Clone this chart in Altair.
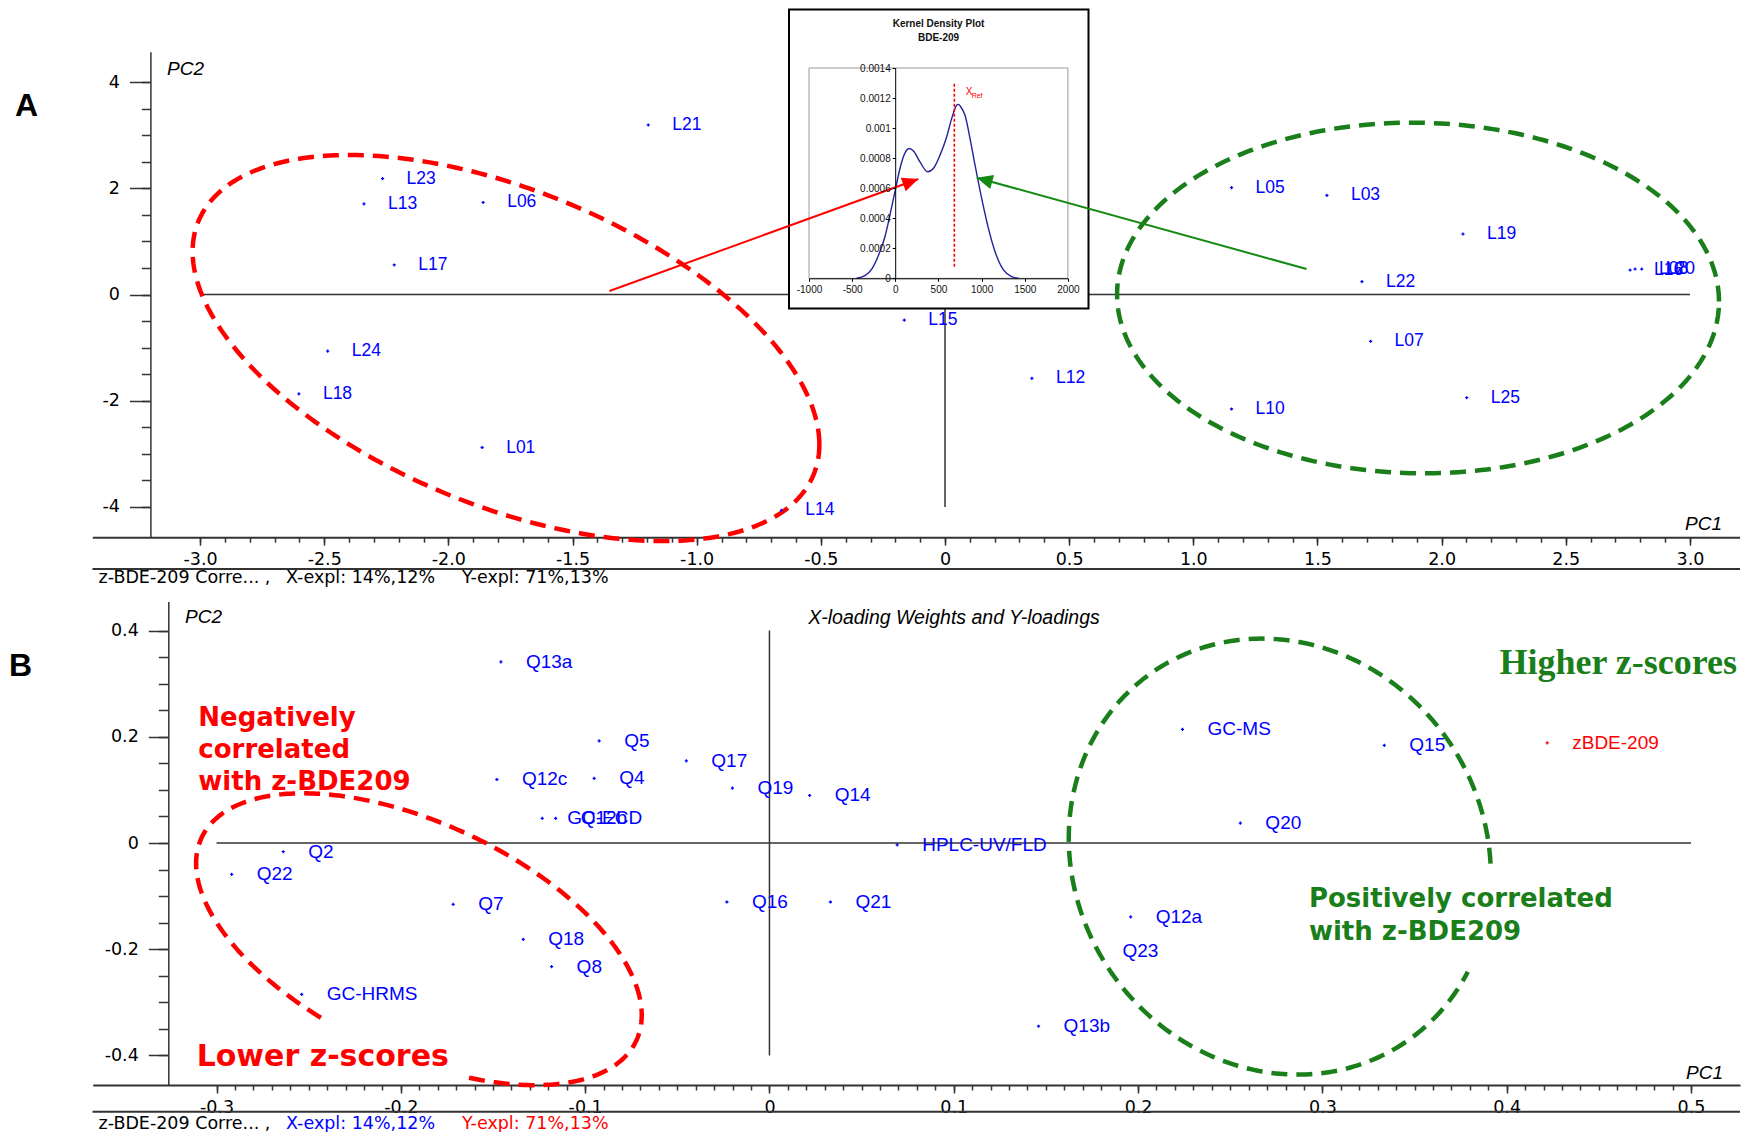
import numpy as np
import pandas as pd
import altair as alt

# ------------------------------------------------------------------ data
# Panel A : scores (PC1, PC2)
a_labels = ["L21", "L23", "L13", "L06", "L17", "L24", "L18", "L01", "L14", "L15", "L12",
            "L05", "L03", "L19", "L22", "L07", "L25", "L10", "L16", "L08", "L20"]
a_pc1 = [-1.195, -2.265, -2.340, -1.860, -2.218, -2.486, -2.602, -1.864, -0.659, -0.164, 0.350,
         1.154, 1.538, 2.086, 1.679, 1.714, 2.101, 1.154, 2.759, 2.779, 2.806]
a_pc2 = [3.192, 2.183, 1.706, 1.733, 0.556, -1.066, -1.872, -2.881, -4.066, -0.482, -1.578,
         2.011, 1.868, 1.139, 0.241, -0.881, -1.944, -2.156, 0.461, 0.480, 0.480]

# Panel B : X-loading weights (x) and Y-loadings (y)
b_labels = ["Q13a", "Q5", "Q17", "Q12c", "Q4", "Q19", "GC-ECD", "Q12b", "Q2", "Q22", "Q7", "Q18",
            "Q8", "GC-HRMS", "Q16", "Q14", "HPLC-UV/FLD", "Q21", "Q13b", "Q23", "Q12a", "GC-MS",
            "Q20", "Q15", "zBDE-209"]
b_pc1 = [-0.1457, -0.0924, -0.0451, -0.1479, -0.0951, -0.0201, -0.1233, -0.1160, -0.2638, -0.2918,
         -0.1716, -0.1336, -0.1182, -0.2538, -0.0231, 0.0218, 0.0693, 0.0331, 0.1460, 0.1780,
         0.1960, 0.2241, 0.2555, 0.3336, 0.4220]
b_pc2 = [0.3411, 0.1923, 0.1546, 0.1196, 0.1217, 0.1034, 0.0465, 0.0465, -0.0164, -0.0590,
         -0.1155, -0.1814, -0.2329, -0.2850, -0.1111, 0.0895, -0.0034, -0.1111, -0.3450, -0.2038,
         -0.1390, 0.2141, 0.0375, 0.1840, 0.1885]
b_kind = ["x"] * 24 + ["y"]

# Inset : kernel density of BDE-209
kde_x = [-448, -352, -267, -186, -120, -62, 0, 54, 104, 159, 213, 286, 375, 441, 518, 595,
         653, 711, 731, 758, 808, 866, 924, 1001, 1079, 1156, 1253, 1349, 1427]
kde_y = [0, 0.0000177, 0.0000665, 0.000166, 0.000277, 0.000421, 0.000587, 0.000731, 0.000824,
         0.000864, 0.000846, 0.000775, 0.000709, 0.000731, 0.000820, 0.000941, 0.001063,
         0.001152, 0.001158, 0.001142, 0.001085, 0.000930, 0.000753, 0.000532, 0.000332,
         0.000177, 0.0000554, 0.0000111, 0]
x_ref = [684]
x_ref_span = [0.0000775, 0.0013]

# axis ticks
a_x_major = [-3.0, -2.5, -2.0, -1.5, -1.0, -0.5, 0.0, 0.5, 1.0, 1.5, 2.0, 2.5, 3.0]
a_y_major = [-4, -2, 0, 2, 4]
a_x_minor = [round(v, 1) for v in np.arange(-3.0, 3.05, 0.1)]
a_y_minor = [round(v, 1) for v in np.arange(-4.0, 4.05, 0.5)]
b_x_major = [-0.3, -0.2, -0.1, 0.0, 0.1, 0.2, 0.3, 0.4, 0.5]
b_y_major = [-0.4, -0.2, 0.0, 0.2, 0.4]
b_x_minor = [round(v, 2) for v in np.arange(-0.3, 0.505, 0.01)]
b_y_minor = [round(v, 2) for v in np.arange(-0.4, 0.405, 0.05)]
k_x_ticks = [-1000, -500, 0, 500, 1000, 1500, 2000]
k_y_ticks = [0, 0.0002, 0.0004, 0.0006, 0.0008, 0.001, 0.0012, 0.0014]

# zero lines extents
a_zero_x = [-3.0, 3.0]
a_zero_y = [-4.0, 4.0]
b_zero_x = [-0.3, 0.5]
b_zero_y = [-0.4, 0.4]

# ellipses (annotation): cx, cy, half-width, half-height, tilt, t-start, t-end (deg)
ell_a_red = [-1.768, -1.008, 1.262, 3.635, -0.50, 0, 360]
ell_a_green = [1.905, -0.066, 1.212, 3.301, -0.02, 0, 360]
ell_b_red = [-0.1902, -0.1812, 0.1209, 0.2748, -0.52, 283, 604]
ell_b_green = [0.2769, -0.0256, 0.1145, 0.4105, -0.085, 3, 333]

# arrows (panel A data units): x1, y1, x2(tip), y2(tip)
arrow_red = [-1.3512, 0.0659, -0.1075, 2.175]
arrow_green = [1.4559, 0.480, 0.1277, 2.1996]

# footer texts
foot_parts = ["z-BDE-209 Corre... ,", "X-expl: 14%,12%", "Y-expl: 71%,13%"]

# ------------------------------------------------------------------ layout
CW, CH = 1739, 1124
BLUE, RED, GREEN, AXC = "#0000ff", "#ff0000", "#1a7f1a", "#333333"
ONE = pd.DataFrame({"k": [0]})

SC = {
    "A": ([-3.434, 3.2], [84.3, 1731.6], [-4.57, 4.57], [529.2, 43.8]),
    "B": ([-0.3672, 0.5266], [84.7, 1732.0], [-0.4557, 0.4546], [1077.0, 593.6]),
    "K": ([-1000, 2000], [801.0, 1059.9], [0, 0.0014], [270.3, 60.0]),
}
A_YAX, B_YAX, K_YAX = 142.4, 160.3, 887.2


def scl(d, r):
    return alt.Scale(domain=d, range=r, nice=False, zero=False)


def X(f, p, axis=None):
    return alt.X(f, type="quantitative", scale=scl(SC[p][0], SC[p][1]), axis=axis, title=None)


def Y(f, p, axis=None):
    return alt.Y(f, type="quantitative", scale=scl(SC[p][2], SC[p][3]), axis=axis, title=None)


def ax(**kw):
    base = dict(grid=False, title=None, domainColor=AXC, tickColor=AXC, labelColor="#000000",
                labelFont="DejaVu Sans", labelFontSize=17.5, labelFlush=False, labelOverlap=False,
                domainWidth=1.5, tickWidth=1.5)
    base.update(kw)
    return alt.Axis(**base)


LBL1 = "datum.value == 0 ? '0' : (datum.value < 0 ? '-' : '') + format(abs(datum.value), '.1f')"
LBLD = "(datum.value < 0 ? '-' : '') + format(abs(datum.value), 'd')"


def fixed_text(txt, x, y, **kw):
    return alt.Chart(ONE).mark_text(text=txt, **kw).encode(x=alt.value(x), y=alt.value(y))


def fixed_hline(x1, x2, y, color=AXC, w=2):
    return alt.Chart(ONE).mark_rule(color=color, strokeWidth=w).encode(
        x=alt.value(x1), x2=alt.value(x2), y=alt.value(y))


def footer(y, colors):
    xs = [90.5, 278.0, 454.0]
    return [fixed_text(t, x, y, font="DejaVu Sans", fontSize=17.5, align="left",
                       baseline="alphabetic", color=c)
            for t, x, c in zip(foot_parts, xs, colors)]


def ell_layer(p, panel, color):
    cx, cy, w, h, s, t0, t1 = p
    t = np.radians(np.linspace(t0, t1, 320))
    phi = np.arcsin(s)
    df = pd.DataFrame({"x": cx + w * np.cos(t), "y": cy + h * np.sin(t + phi),
                       "o": np.arange(len(t))})
    return alt.Chart(df).mark_line(color=color, strokeWidth=4.5, strokeDash=[16, 9]).encode(
        x=X("x", panel), y=Y("y", panel), order="o:Q")


def zero_layers(zx, zy, panel):
    h = pd.DataFrame({"x1": [zx[0]], "x2": [zx[1]], "y": [0.0]})
    v = pd.DataFrame({"x": [0.0], "y1": [zy[0]], "y2": [zy[1]]})
    return [
        alt.Chart(h).mark_rule(color=AXC, strokeWidth=1.5).encode(
            x=X("x1", panel), x2="x2", y=Y("y", panel)),
        alt.Chart(v).mark_rule(color=AXC, strokeWidth=1.5).encode(
            x=X("x", panel), y=Y("y1", panel), y2="y2"),
    ]


def arrow_layers(a, color):
    x1, y1, x2, y2 = a
    df = pd.DataFrame({"x1": [x1], "y1": [y1], "x2": [x2], "y2": [y2]})
    sxp = (SC["A"][1][1] - SC["A"][1][0]) / (SC["A"][0][1] - SC["A"][0][0])
    syp = (SC["A"][3][1] - SC["A"][3][0]) / (SC["A"][2][1] - SC["A"][2][0])
    ang = float(np.degrees(np.arctan2((y2 - y1) * syp, (x2 - x1) * sxp)) % 360)
    line = alt.Chart(df).mark_rule(color=color, strokeWidth=2).encode(
        x=X("x1", "A"), y=Y("y1", "A"), x2="x2", y2="y2")
    head = alt.Chart(df).mark_point(shape="M0,0L-1,-0.45L-1,0.45Z", filled=True, size=1024,
                                    color=color, opacity=1, angle=ang, strokeWidth=0).encode(
        x=X("x2", "A"), y=Y("y2", "A"))
    return [line, head]


layers = []

# ================================================================ panel A
dfA = pd.DataFrame({"lab": a_labels, "pc1": a_pc1, "pc2": a_pc2})
layers += zero_layers(a_zero_x, a_zero_y, "A")
layers.append(alt.Chart(dfA).mark_text(align="left", baseline="middle", dx=24, font="Liberation Sans",
                                       fontSize=17.5, color=BLUE).encode(
    x=X("pc1", "A"), y=Y("pc2", "A"), text="lab"))
layers.append(ell_layer(ell_a_red, "A", RED))
layers.append(ell_layer(ell_a_green, "A", GREEN))
layers.append(alt.Chart(dfA).mark_point(shape="cross", filled=True, size=10, color=BLUE, opacity=1).encode(
    x=X("pc1", "A", ax(orient="bottom", offset=SC["A"][3][0] - CH, values=a_x_major, tickSize=8,
                       labelPadding=5, domainWidth=2, labelExpr=LBL1)),
    y=Y("pc2", "A", ax(orient="left", offset=-A_YAX, values=a_y_major, tickSize=21,
                       labelPadding=10, labelExpr=LBLD))))
layers.append(alt.Chart(dfA).mark_point(opacity=0).encode(
    x=X("pc1", "A", ax(orient="bottom", offset=SC["A"][3][0] - CH, values=a_x_minor, tickSize=5,
                       labels=False, domain=False)),
    y=Y("pc2", "A", ax(orient="left", offset=-A_YAX, values=a_y_minor, tickSize=9,
                       labels=False, domain=False))))

# ---- inset (kernel density plot)
layers.append(alt.Chart(ONE).mark_rect(fill="white", stroke="black", strokeWidth=2).encode(
    x=alt.value(781), x2=alt.value(1080.5), y=alt.value(1.5), y2=alt.value(300.5)))
frame = pd.DataFrame({"x1": [k_x_ticks[0]], "x2": [k_x_ticks[-1]],
                      "y1": [k_y_ticks[0]], "y2": [k_y_ticks[-1]]})
layers.append(alt.Chart(frame).mark_rect(fillOpacity=0, stroke="#9a9a9a", strokeWidth=1).encode(
    x=X("x1", "K"), x2="x2", y=Y("y1", "K"), y2="y2"))
dfK = pd.DataFrame({"x": kde_x, "y": kde_y})
kax = dict(grid=False, title=None, labelFont="Liberation Sans", labelFontSize=10, labelColor="#111111",
           domainColor="#000000", tickColor="#000000", domainWidth=1, tickWidth=1, zindex=1,
           labelFlush=False, labelOverlap=False, tickSize=3)
layers.append(alt.Chart(dfK).mark_line(color="#22229a", strokeWidth=1.4, interpolate="monotone").encode(
    x=X("x", "K", alt.Axis(orient="bottom", offset=SC["K"][3][0] - CH, values=k_x_ticks,
                           labelPadding=3, labelExpr=LBLD, **kax)),
    y=Y("y", "K", alt.Axis(orient="left", offset=-K_YAX, values=k_y_ticks, labelPadding=2,
                           format="~g", **kax))))
dfR = pd.DataFrame({"x": x_ref, "y1": [x_ref_span[0]], "y2": [x_ref_span[1]]})
layers.append(alt.Chart(dfR).mark_rule(color=RED, strokeWidth=1.6, strokeDash=[3, 2]).encode(
    x=X("x", "K"), y=Y("y1", "K"), y2="y2"))
layers.append(alt.Chart(pd.DataFrame({"x": [856], "y": [0.001243]})).mark_text(
    text="X", color=RED, font="Liberation Sans", fontSize=10, align="center", baseline="middle").encode(
    x=X("x", "K"), y=Y("y", "K")))
layers.append(alt.Chart(pd.DataFrame({"x": [885], "y": [0.001212]})).mark_text(
    text="Ref", color=RED, font="Liberation Sans", fontSize=7, align="left", baseline="middle").encode(
    x=X("x", "K"), y=Y("y", "K")))
layers.append(fixed_text("Kernel Density Plot", 930.5, 15.5, font="Liberation Sans", fontWeight="bold",
                         fontSize=10, color="#111111", align="center", baseline="middle"))
layers.append(fixed_text("BDE-209", 930.5, 29.5, font="Liberation Sans", fontWeight="bold",
                         fontSize=10, color="#111111", align="center", baseline="middle"))

# arrows
layers += arrow_layers(arrow_red, RED)
layers += arrow_layers(arrow_green, "#138a13")

# panel A texts / frame lines
layers.append(fixed_text("PC2", 159, 67, font="Liberation Sans", fontStyle="italic", fontSize=19,
                         align="left", baseline="alphabetic", color="black"))
layers.append(fixed_text("PC1", 1714, 522, font="Liberation Sans", fontStyle="italic", fontSize=19,
                         align="right", baseline="alphabetic", color="black"))
layers.append(fixed_text("A", 7, 108.4, font="Liberation Sans", fontWeight="bold", fontSize=32,
                         align="left", baseline="alphabetic", color="black"))
layers.append(fixed_hline(84.5, 1732, 561))
layers += footer(575.3, ["black", "black", "black"])

# ================================================================ panel B
dfB = pd.DataFrame({"lab": b_labels, "pc1": b_pc1, "pc2": b_pc2, "kind": b_kind})
colB = alt.Color("kind:N", scale=alt.Scale(domain=["x", "y"], range=[BLUE, RED]), legend=None)
layers += zero_layers(b_zero_x, b_zero_y, "B")
layers.append(alt.Chart(dfB).mark_point(shape="cross", filled=True, size=10, opacity=1).encode(
    x=X("pc1", "B", ax(orient="bottom", offset=SC["B"][3][0] - CH, values=b_x_major, tickSize=8,
                       labelPadding=5, domainWidth=2, labelExpr=LBL1)),
    y=Y("pc2", "B", ax(orient="left", offset=-B_YAX, values=b_y_major, tickSize=20,
                       labelPadding=10, labelExpr=LBL1)),
    color=colB))
layers.append(alt.Chart(dfB).mark_point(opacity=0).encode(
    x=X("pc1", "B", ax(orient="bottom", offset=SC["B"][3][0] - CH, values=b_x_minor, tickSize=5,
                       labels=False, domain=False)),
    y=Y("pc2", "B", ax(orient="left", offset=-B_YAX, values=b_y_minor, tickSize=10,
                       labels=False, domain=False))))
layers.append(alt.Chart(dfB).mark_text(align="left", baseline="middle", dx=25, font="Liberation Sans",
                                       fontSize=19).encode(
    x=X("pc1", "B"), y=Y("pc2", "B"), text="lab", color=colB))


def ann(txt, x, y, **kw):
    return alt.Chart(pd.DataFrame({"x": [x], "y": [y]})).mark_text(
        text=txt, align="left", baseline="alphabetic", lineBreak="\n", **kw).encode(
        x=X("x", "B"), y=Y("y", "B"))


layers.append(ann("Negatively\ncorrelated\nwith z-BDE209", -0.3099, 0.2200, font="DejaVu Sans",
                  fontWeight="bold", fontSize=26, lineHeight=32, color=RED))
layers.append(ann("Lower z-scores", -0.3108, -0.420, font="DejaVu Sans", fontWeight="bold",
                  fontSize=30, color=RED))
layers.append(ann("Higher z-scores", 0.3961, 0.3183, font="Liberation Serif", fontWeight="bold",
                  fontSize=36, color=GREEN))
layers.append(ann("Positively correlated\nwith z-BDE209", 0.2927, -0.1205, font="DejaVu Sans",
                  fontWeight="bold", fontSize=26, lineHeight=32.7, color=GREEN))
layers.append(ell_layer(ell_b_red, "B", RED))
layers.append(ell_layer(ell_b_green, "B", GREEN))

layers.append(fixed_text("X-loading Weights and Y-loadings", 946, 616, font="Liberation Sans",
                         fontStyle="italic", fontSize=19.5, align="center", baseline="alphabetic",
                         color="black"))
layers.append(fixed_text("PC2", 177, 615, font="Liberation Sans", fontStyle="italic", fontSize=19,
                         align="left", baseline="alphabetic", color="black"))
layers.append(fixed_text("PC1", 1715, 1071.3, font="Liberation Sans", fontStyle="italic", fontSize=19,
                         align="right", baseline="alphabetic", color="black"))
layers.append(fixed_text("B", 1, 668, font="Liberation Sans", fontWeight="bold", fontSize=32,
                         align="left", baseline="alphabetic", color="black"))
layers.append(fixed_hline(84.5, 1732, 1103.7))
layers += footer(1121, ["black", BLUE, RED])

chart = alt.layer(*layers).resolve_scale(x="independent", y="independent").properties(
    width=CW, height=CH, padding=0, background="white",
    autosize=alt.AutoSizeParams(type="none")).configure_view(strokeWidth=0)

chart.save("out.html", embed_options={"renderer": "svg", "actions": False})
